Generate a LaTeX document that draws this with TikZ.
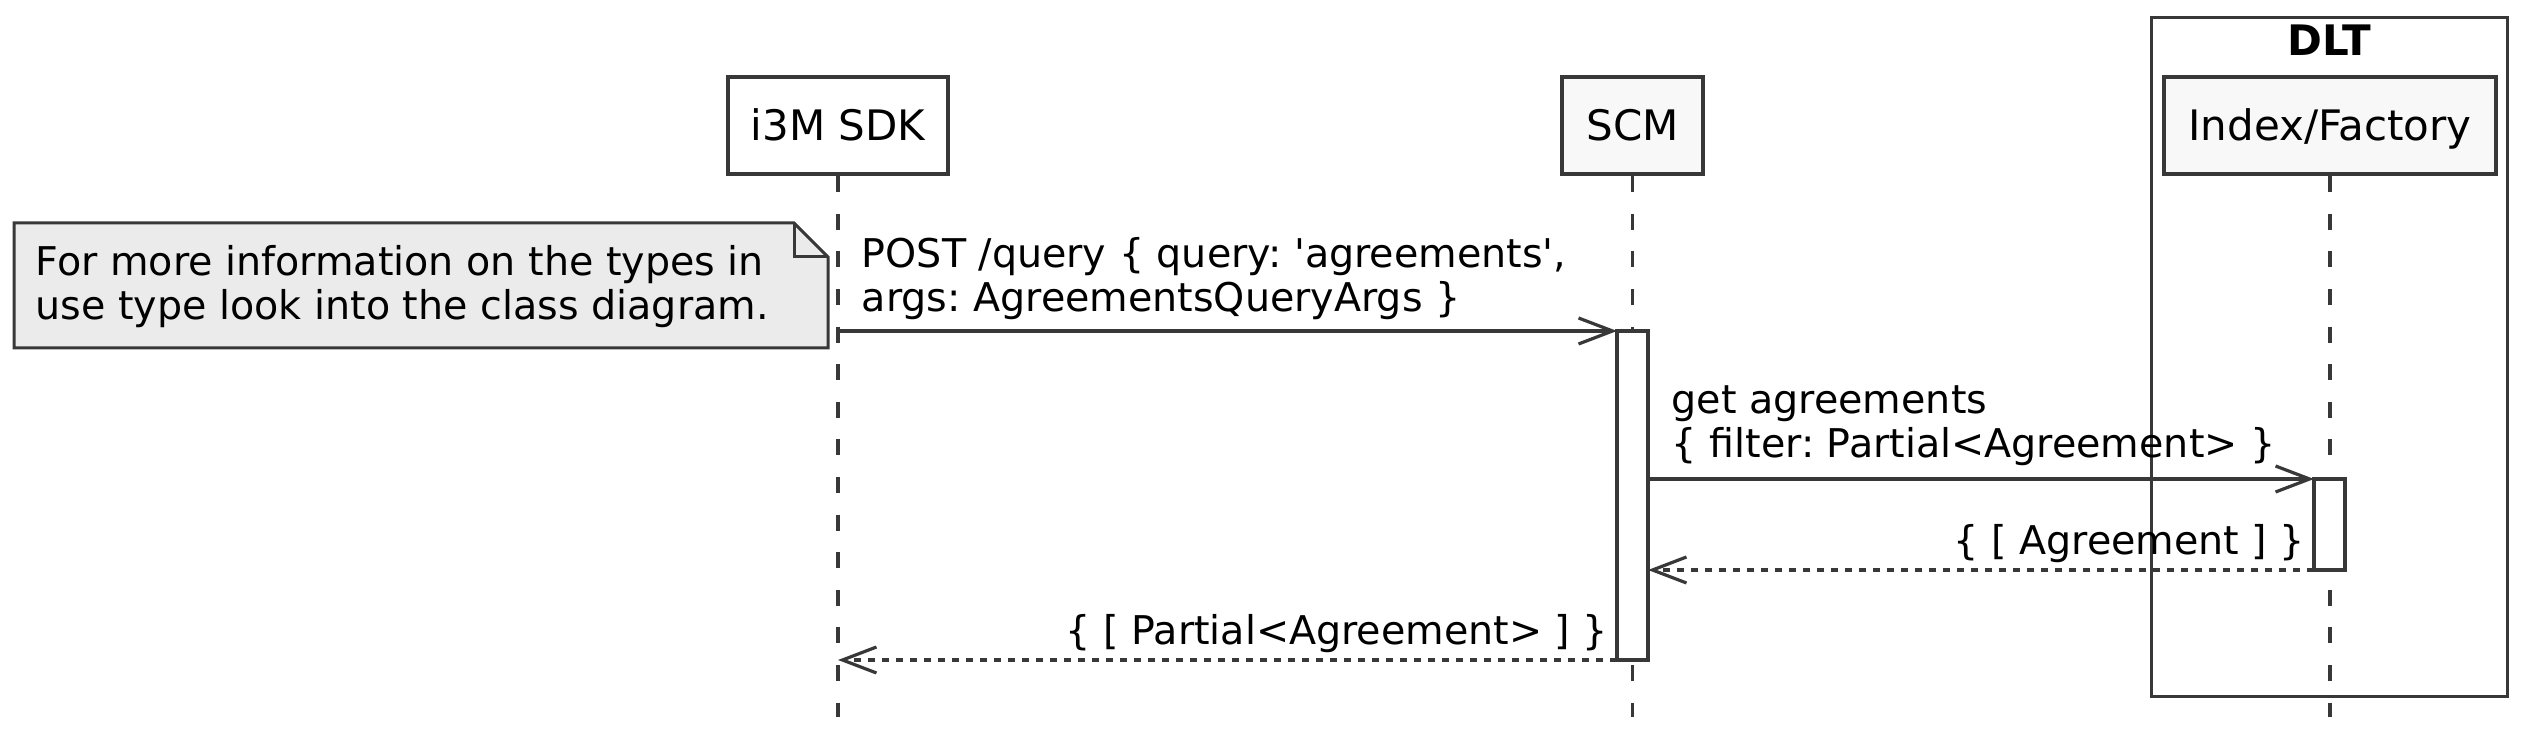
\documentclass[tikz,border=0pt]{standalone}
\usepackage{fontspec}
\setmainfont{DejaVu Sans}[Ligatures=TeXOff]
\usetikzlibrary{arrows.meta}
\definecolor{ln}{HTML}{383838}
\definecolor{pfill}{HTML}{F8F8F8}
\definecolor{nfill}{HTML}{EBEBEB}
\begin{document}
\frenchspacing
\begin{tikzpicture}[x=0.25pt,y=-0.25pt,
  every node/.style={font=\fontsize{10.5pt}{11pt}\selectfont, inner sep=0pt},
  part/.style={draw=ln, line width=1.1pt, minimum height=24.25pt, text height=7.65pt, text depth=0pt},
  life/.style={draw=ln, line width=0.8pt, dash pattern=on 4pt off 5.4pt},
  act/.style={draw=ln, line width=0.8pt, fill=white, outer sep=0pt},
  msg/.style={draw=ln, line width=0.8pt, -{Straight Barb[length=8.5pt,width=6.5pt]}},
  ret/.style={msg, dash pattern=on 1.75pt off 1.75pt},
  lbl/.style={align=left, anchor=base west, font=\fontsize{9.9pt}{11pt}\selectfont},
  rlbl/.style={anchor=base east, font=\fontsize{9.9pt}{11pt}\selectfont},
  grp/.style={draw=ln, line width=0.75pt},
  ]
\useasboundingbox (0,0) rectangle (2523,735);

% group box
\node[grp, minimum width=89pt, minimum height=169.75pt] (dlt) at (2329,357.5) {};
\node[anchor=base, font=\fontsize{10.5pt}{11pt}\selectfont\bfseries] (dltlbl) at (2329,56) {DLT};

% participants
\node[part, fill=white, minimum width=55pt] (sdk) at (838,125.5) {i3M SDK};
\node[part, fill=pfill, minimum width=35.25pt] (scm) at (1632.5,125.5) {SCM};
\node[part, fill=pfill, minimum width=83pt] (idx) at (2330,125.5) {Index/Factory};

% lifeline ends
\coordinate (sdkend) at (838,717);
\coordinate (scmend) at (1632.5,717);
\coordinate (idxend) at (2330,717);
\draw[life] (sdk.south) -- (sdkend);
\draw[life] (scm.south) -- (scmend);
\draw[life] (idx.south) -- (idxend);

% note
\coordinate (nA) at (14,223);
\coordinate (nB) at (794,223);
\coordinate (nC) at (828,257);
\coordinate (nD) at (828,348);
\coordinate (nE) at (14,348);
\draw[draw=ln, fill=nfill, line width=0.75pt, line join=miter] (nA) -- (nB) -- (nC) -- (nD) -- (nE) -- cycle;
\draw[draw=ln, line width=0.75pt] (nB) -- (nB |- nC) -- (nC);
\node[lbl] (note) at (35,320) {For more information on the types in\\use type look into the class diagram.};

% activations
\node[act, minimum width=7.75pt, minimum height=82.25pt] (scmact) at (1632.5,495.5) {};
\node[act, minimum width=7.75pt, minimum height=22.75pt] (idxact) at (2329.5,524.5) {};

% messages
\coordinate (m1s) at (838,331);
\draw[msg] (m1s) -- (scmact.north west);
\node[lbl] (m1l) at (861,312) {POST /query \{ query: 'agreements',\\args: AgreementsQueryArgs \}};

\draw[msg] (scmact.east |- idxact.north) -- (idxact.north west);
\node[lbl] (m2l) at (1671,458) {get agreements\\\{ filter: Partial<Agreement> \}};

\draw[ret] (idxact.south west) -- (scmact.east |- idxact.south);
\node[rlbl] (r1l) at (2306,555) {\{ [ Agreement ] \}};

\coordinate (r2e) at (838,660);
\draw[ret] (scmact.south west) -- (r2e);
\node[rlbl] (r2l) at (1609,645) {\{ [ Partial<Agreement> ] \}};
\end{tikzpicture}
\end{document}
